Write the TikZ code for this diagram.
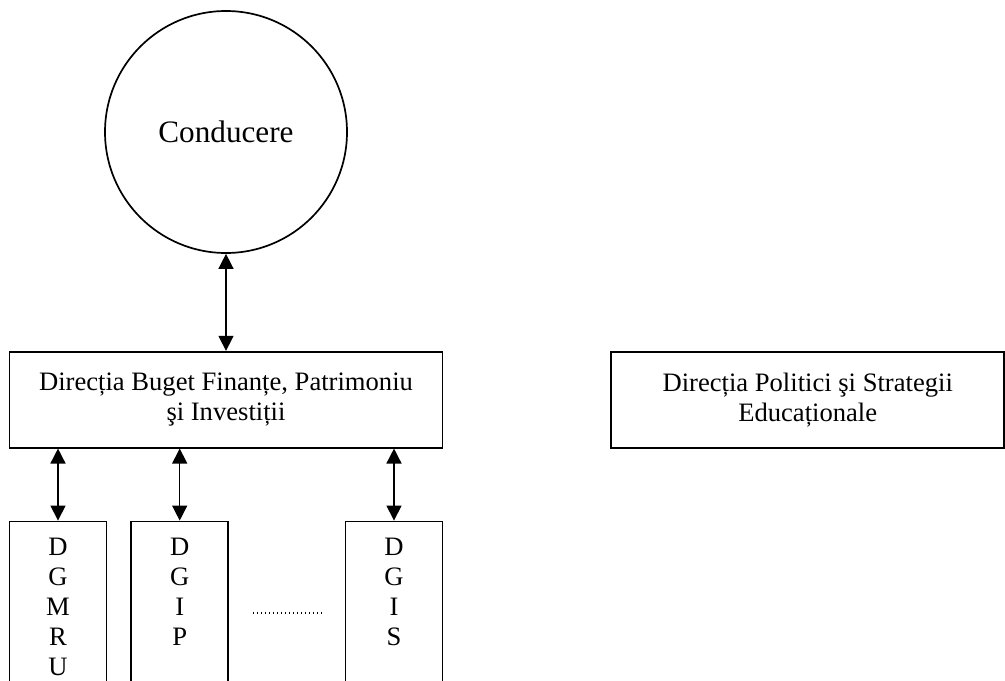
\documentclass[tikz,border=0pt]{standalone}
\usepackage{fontspec}
\setmainfont{Liberation Serif}
\usetikzlibrary{arrows.meta,positioning}

\begin{document}
\begin{tikzpicture}[
  every node/.style={font=\fontsize{13.3}{15}\selectfont, align=center},
  circ/.style={draw=black, circle, line width=0.85pt, minimum size=121pt, inner sep=0pt, font=\fontsize{15.6}{18}\selectfont},
  box/.style={draw=black, line width=0.85pt, minimum height=48pt, inner sep=0pt},
  unit/.style={draw=black, line width=0.85pt, minimum width=48.5pt, minimum height=90pt, inner sep=0pt},
  letters/.style={anchor=north, inner sep=0pt, yshift=-8.5pt},
  arr/.style={{Triangle[length=7.5pt,width=7.5pt]}-{Triangle[length=7.5pt,width=7.5pt]}, line width=0.75pt},
  dots/.style={line width=0.6pt, dash pattern=on 0.6pt off 1.4pt}
]
\clip (0,0) rectangle (502.5pt,-340pt);
\node[circ] (lead) at (113pt,-66pt) {Conducere};
\node[box, minimum width=216.5pt, below=48.5pt of lead] (budget) {Direcția Buget Finanțe, Patrimoniu\\şi Investiții};
\node[box, minimum width=196.5pt, right=83.5pt of budget] (policy) {Direcția Politici şi Strategii\\Educaționale};
\node[unit, below right=36pt and 0pt of budget.south west, label={[letters]north:D\\G\\M\\R\\U}] (dgmru) {};
\node[unit, right=11.5pt of dgmru, label={[letters]north:D\\G\\I\\P}] (dgip) {};
\node[unit, below left=36pt and 0pt of budget.south east, label={[letters]north:D\\G\\I\\S}] (dgis) {};
\coordinate (gapl) at (126.5pt,-306.5pt);
\coordinate (gapr) at (161.5pt,-306.5pt);
\draw[arr] (lead.south) -- (budget.north);
\draw[arr] (budget.south -| dgmru.north) -- (dgmru.north);
\draw[arr] (budget.south -| dgip.north) -- (dgip.north);
\draw[arr] (budget.south -| dgis.north) -- (dgis.north);
\draw[dots] (gapl) -- (gapr);
\end{tikzpicture}
\end{document}
